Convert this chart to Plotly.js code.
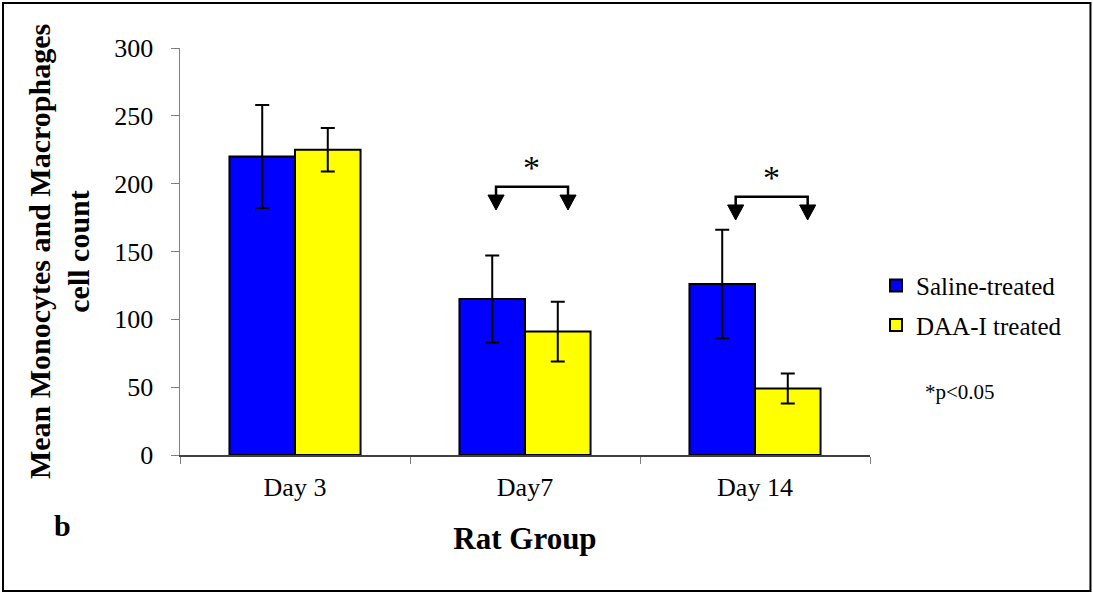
<!DOCTYPE html>
<html>
<head>
<meta charset="utf-8">
<script src="https://cdn.plot.ly/plotly-3.0.1.min.js"></script>
<style>html,body{margin:0;padding:0;background:#fff;}#chart{width:1093px;height:593px;}</style>
</head>
<body>
<div id="chart"></div>
<script>
var categories = ["Day 3", "Day7", "Day 14"];
var salineMeans = [220, 115, 126];
var salineErrors = [38, 32, 40];
var daaMeans = [225, 91, 49];
var daaErrors = [16, 22, 11];
var seriesNames = ["Saline-treated", "DAA-I treated"];
var yTicks = [0, 50, 100, 150, 200, 250, 300];

var FONT = "Liberation Serif, Times New Roman, serif";

var traces = [
  {
    type: "bar", name: seriesNames[0], x: categories, y: salineMeans,
    legendgroup: "a",
    marker: {color: "#0000ff", line: {color: "#000000", width: 2}},
    error_y: {type: "data", array: salineErrors, visible: true, color: "#000000", thickness: 2, width: 7}
  },
  {
    type: "bar", name: seriesNames[1], x: categories, y: daaMeans,
    legendgroup: "b",
    marker: {color: "#ffff00", line: {color: "#000000", width: 2}},
    error_y: {type: "data", array: daaErrors, visible: true, color: "#000000", thickness: 2, width: 7}
  }
];

// significance brackets (category index units on x)
function bracket(xl, xr, yLine, yTop, yTip) {
  var hw = 0.035;
  return [
    {type: "path", xref: "x", yref: "y",
     path: "M" + xl + "," + yTop + " L" + xl + "," + yLine + " L" + xr + "," + yLine + " L" + xr + "," + yTop,
     line: {color: "#000", width: 2.5}},
    {type: "path", xref: "x", yref: "y",
     path: "M" + (xl - hw) + "," + yTop + " L" + (xl + hw) + "," + yTop + " L" + xl + "," + yTip + " Z",
     fillcolor: "#000", line: {color: "#000", width: 1}},
    {type: "path", xref: "x", yref: "y",
     path: "M" + (xr - hw) + "," + yTop + " L" + (xr + hw) + "," + yTop + " L" + xr + "," + yTip + " Z",
     fillcolor: "#000", line: {color: "#000", width: 1}}
  ];
}

var shapes = [].concat(
  bracket(0.874, 1.187, 197.8, 191.6, 180.6),
  bracket(1.916, 2.229, 190.4, 184.3, 173.2),
  [{type: "rect", xref: "paper", yref: "paper", x0: -0.2565, x1: 1.3195, y0: -0.334, y1: 1.1106,
    line: {color: "#000", width: 2}, fillcolor: "rgba(0,0,0,0)", layer: "below"}]
);

var layout = {
  width: 1093, height: 593,
  margin: {l: 180, r: 223, t: 48, b: 138},
  paper_bgcolor: "#fff", plot_bgcolor: "#fff",
  font: {family: FONT, color: "#000", size: 25},
  barmode: "group", bargap: 0.43, bargroupgap: 0,
  showlegend: true,
  legend: {x: 1.0087, xanchor: "left", y: 0.368, yanchor: "middle",
           font: {family: FONT, size: 25, color: "#000"}, tracegroupgap: 4,
           bgcolor: "rgba(0,0,0,0)"},
  xaxis: {
    type: "category", tickson: "boundaries", ticks: "outside", ticklen: 7, tickcolor: "#808080",
    showline: true, linecolor: "#404040", linewidth: 1.5, showgrid: false, zeroline: false,
    tickfont: {family: FONT, size: 26, color: "#000"}, ticklabelstandoff: 8,
    title: {text: "<b>Rat Group</b>", font: {family: FONT, size: 31, color: "#000"}, standoff: 26}
  },
  yaxis: {
    range: [0, 300], tickvals: yTicks, ticks: "outside", ticklen: 8, tickcolor: "#808080",
    showline: true, linecolor: "#808080", linewidth: 1.5, showgrid: false, zeroline: false,
    tickfont: {family: FONT, size: 26, color: "#000"}, ticklabelstandoff: 12,
    title: {text: "<b>Mean Monocytes and Macrophages<br>cell count</b>", font: {family: FONT, size: 30, color: "#000"}, standoff: 16}
  },
  shapes: shapes,
  annotations: [
    {xref: "x", yref: "y", x: 1.03, y: 215, text: "*", showarrow: false, font: {family: FONT, size: 34, color: "#000"}, yanchor: "middle", yshift: -4},
    {xref: "x", yref: "y", x: 2.072, y: 207.6, text: "*", showarrow: false, font: {family: FONT, size: 34, color: "#000"}, yanchor: "middle", yshift: -4},
    {xref: "paper", yref: "paper", x: 1.0768, y: 0.155, text: "*p<0.05", showarrow: false, xanchor: "left", yanchor: "middle",
     font: {family: FONT, size: 21, color: "#000"}},
    {xref: "paper", yref: "paper", x: -0.1696, y: -0.1744, text: "<b>b</b>", showarrow: false, xanchor: "center", yanchor: "middle",
     font: {family: FONT, size: 30, color: "#000"}}
  ]
};

Plotly.newPlot("chart", traces, layout, {displayModeBar: false, staticPlot: true});
</script>
</body>
</html>
